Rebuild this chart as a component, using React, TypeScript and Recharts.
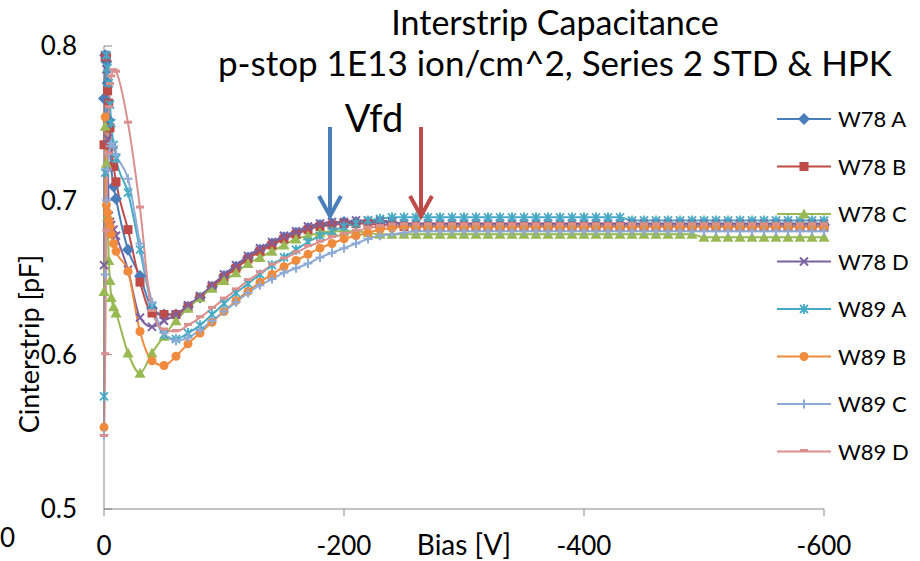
import React from "react";
import { LineChart, Line, XAxis, YAxis } from "recharts";

// bias points (V) of the sweep
const bias = [
  0, -1, -2, -3, -4, -5, -6, -8, -10, -20, -30, -40, -50, -60, -70, -80, -90,
  -100, -110, -120, -130, -140, -150, -160, -170, -180, -190, -200, -210, -220,
  -230, -240, -250, -260, -270, -280, -290, -300, -310, -320, -330, -340, -350,
  -360, -370, -380, -390, -400, -410, -420, -430, -440, -450, -460, -470, -480,
  -490, -500, -510, -520, -530, -540, -550, -560, -570, -580, -590, -600,
];

// Cinterstrip [pF] per sensor
const w78a = [
  0.766, 0.794, 0.79, 0.776, 0.752, 0.736, 0.722, 0.709, 0.701, 0.668, 0.651,
  0.63, 0.626, 0.626, 0.631, 0.637, 0.644, 0.651, 0.657, 0.663, 0.668, 0.672,
  0.676, 0.679, 0.682, 0.684, 0.685, 0.686, 0.686, 0.686, 0.686, 0.685, 0.684,
  0.684, 0.684, 0.684, 0.684, 0.684, 0.684, 0.684, 0.684, 0.684, 0.684, 0.684,
  0.684, 0.684, 0.684, 0.684, 0.684, 0.684, 0.684, 0.684, 0.684, 0.684, 0.684,
  0.684, 0.684, 0.684, 0.684, 0.684, 0.684, 0.684, 0.684, 0.684, 0.684, 0.684,
  0.684, 0.684,
];
const w78b = [
  0.736, 0.793, 0.793, 0.771, 0.763, 0.747, 0.735, 0.722, 0.712, 0.681, 0.647,
  0.627, 0.626, 0.626, 0.631, 0.637, 0.644, 0.65, 0.656, 0.662, 0.667, 0.671,
  0.675, 0.678, 0.681, 0.683, 0.684, 0.685, 0.685, 0.685, 0.684, 0.684, 0.683,
  0.683, 0.683, 0.683, 0.683, 0.683, 0.683, 0.683, 0.683, 0.683, 0.683, 0.683,
  0.683, 0.683, 0.683, 0.683, 0.683, 0.683, 0.683, 0.683, 0.683, 0.683, 0.683,
  0.683, 0.683, 0.683, 0.683, 0.683, 0.683, 0.683, 0.683, 0.683, 0.683, 0.683,
  0.683, 0.683,
];
const w78c = [
  0.641, 0.748, 0.724, 0.69, 0.661, 0.648, 0.637, 0.631, 0.627, 0.601, 0.588,
  0.601, 0.612, 0.622, 0.63, 0.637, 0.643, 0.648, 0.653, 0.659, 0.663, 0.667,
  0.671, 0.675, 0.677, 0.679, 0.68, 0.68, 0.68, 0.679, 0.678, 0.678, 0.678,
  0.678, 0.678, 0.678, 0.678, 0.678, 0.678, 0.678, 0.678, 0.678, 0.678, 0.678,
  0.678, 0.678, 0.678, 0.678, 0.678, 0.678, 0.678, 0.678, 0.678, 0.678, 0.678,
  0.678, 0.678, 0.676, 0.676, 0.676, 0.676, 0.676, 0.676, 0.676, 0.676, 0.676,
  0.676, 0.676,
];
const w78d = [
  0.658, 0.794, 0.785, 0.74, 0.69, 0.686, 0.684, 0.681, 0.677, 0.655, 0.624,
  0.618, 0.622, 0.626, 0.632, 0.638, 0.645, 0.652, 0.658, 0.664, 0.669, 0.673,
  0.677, 0.68, 0.683, 0.685, 0.686, 0.686, 0.687, 0.687, 0.687, 0.686, 0.685,
  0.685, 0.685, 0.685, 0.685, 0.685, 0.685, 0.685, 0.685, 0.685, 0.685, 0.685,
  0.685, 0.685, 0.685, 0.685, 0.685, 0.685, 0.685, 0.685, 0.685, 0.685, 0.685,
  0.685, 0.685, 0.685, 0.685, 0.685, 0.685, 0.685, 0.685, 0.685, 0.685, 0.685,
  0.685, 0.685,
];
const w89a = [
  0.573, 0.718, 0.794, 0.786, 0.776, 0.762, 0.75, 0.736, 0.727, 0.705, 0.668,
  0.631, 0.613, 0.61, 0.614, 0.619, 0.626, 0.633, 0.64, 0.646, 0.652, 0.658,
  0.663, 0.668, 0.673, 0.677, 0.68, 0.683, 0.685, 0.687, 0.688, 0.689, 0.689,
  0.689, 0.689, 0.689, 0.689, 0.689, 0.689, 0.689, 0.689, 0.689, 0.689, 0.689,
  0.689, 0.689, 0.689, 0.689, 0.689, 0.689, 0.689, 0.687, 0.687, 0.687, 0.687,
  0.687, 0.687, 0.687, 0.687, 0.687, 0.687, 0.687, 0.687, 0.687, 0.687, 0.687,
  0.687, 0.687,
];
const w89b = [
  0.553, 0.754, 0.697, 0.692, 0.687, 0.683, 0.678, 0.672, 0.667, 0.654, 0.615,
  0.596, 0.593, 0.599, 0.607, 0.614, 0.621, 0.628, 0.635, 0.641, 0.647, 0.652,
  0.657, 0.661, 0.665, 0.669, 0.672, 0.675, 0.677, 0.679, 0.681, 0.682, 0.683,
  0.683, 0.683, 0.683, 0.683, 0.683, 0.683, 0.683, 0.683, 0.683, 0.683, 0.683,
  0.683, 0.683, 0.683, 0.683, 0.683, 0.683, 0.683, 0.683, 0.683, 0.683, 0.683,
  0.683, 0.683, 0.683, 0.683, 0.683, 0.683, 0.683, 0.683, 0.683, 0.683, 0.683,
  0.683, 0.683,
];
const w89c = [
  0.548, 0.652, 0.7, 0.72, 0.73, 0.735, 0.737, 0.735, 0.73, 0.714, 0.672,
  0.634, 0.614, 0.609, 0.611, 0.616, 0.622, 0.628, 0.634, 0.64, 0.645, 0.649,
  0.653, 0.656, 0.659, 0.663, 0.666, 0.669, 0.672, 0.675, 0.677, 0.678, 0.679,
  0.68, 0.68, 0.68, 0.68, 0.68, 0.68, 0.68, 0.68, 0.68, 0.68, 0.68, 0.68, 0.68,
  0.68, 0.68, 0.68, 0.68, 0.68, 0.68, 0.68, 0.68, 0.68, 0.68, 0.68, 0.68, 0.68,
  0.68, 0.68, 0.68, 0.68, 0.68, 0.68, 0.68, 0.68, 0.68, 0.68,
];
const w89d = [
  0.547, 0.6, 0.68, 0.73, 0.76, 0.775, 0.78, 0.784, 0.783, 0.75, 0.695, 0.628,
  0.616, 0.615, 0.619, 0.624, 0.63, 0.636, 0.642, 0.648, 0.653, 0.658, 0.662,
  0.666, 0.67, 0.673, 0.676, 0.678, 0.68, 0.682, 0.683, 0.684, 0.684, 0.684,
  0.684, 0.684, 0.684, 0.684, 0.684, 0.684, 0.684, 0.684, 0.684, 0.684, 0.684,
  0.684, 0.684, 0.684, 0.684, 0.684, 0.684, 0.684, 0.684, 0.684, 0.684, 0.684,
  0.684, 0.684, 0.684, 0.684, 0.684, 0.684, 0.684, 0.684, 0.684, 0.684, 0.684,
  0.684,
];

const xTicks = [0, -200, -400, -600];
const yTicks = [0.5, 0.6, 0.7, 0.8];

type Shape =
  | "diamond"
  | "square"
  | "triangle"
  | "cross"
  | "star"
  | "circle"
  | "plus"
  | "dash";

const series: { key: string; name: string; color: string; shape: Shape; values: number[] }[] = [
  { key: "w78a", name: "W78 A", color: "#4A7EBB", shape: "diamond", values: w78a },
  { key: "w78b", name: "W78 B", color: "#BE4B48", shape: "square", values: w78b },
  { key: "w78c", name: "W78 C", color: "#98B954", shape: "triangle", values: w78c },
  { key: "w78d", name: "W78 D", color: "#7D60A0", shape: "cross", values: w78d },
  { key: "w89a", name: "W89 A", color: "#46AAC5", shape: "star", values: w89a },
  { key: "w89b", name: "W89 B", color: "#F08A3C", shape: "circle", values: w89b },
  { key: "w89c", name: "W89 C", color: "#8EAAD6", shape: "plus", values: w89c },
  { key: "w89d", name: "W89 D", color: "#D9908E", shape: "dash", values: w89d },
];

const rows = bias.map((v, i) => {
  const row: Record<string, number> = { bias: v };
  series.forEach((s) => {
    row[s.key] = s.values[i];
  });
  return row;
});

const FONT = "Lato, 'Open Sans', sans-serif";

const Marker = ({ shape, color, cx, cy }: { shape: Shape; color: string; cx: number; cy: number }) => {
  switch (shape) {
    case "diamond":
      return (
        <polygon
          points={`${cx},${cy - 6} ${cx + 6},${cy} ${cx},${cy + 6} ${cx - 6},${cy}`}
          fill={color}
        />
      );
    case "square":
      return <rect x={cx - 4.5} y={cy - 4.5} width={9} height={9} fill={color} />;
    case "triangle":
      return (
        <polygon
          points={`${cx},${cy - 5.5} ${cx + 5.5},${cy + 4.5} ${cx - 5.5},${cy + 4.5}`}
          fill={color}
        />
      );
    case "cross":
      return (
        <path
          d={`M${cx - 4},${cy - 4}L${cx + 4},${cy + 4}M${cx - 4},${cy + 4}L${cx + 4},${cy - 4}`}
          stroke={color}
          strokeWidth={2}
        />
      );
    case "star":
      return (
        <path
          d={`M${cx - 4},${cy - 4}L${cx + 4},${cy + 4}M${cx - 4},${cy + 4}L${cx + 4},${cy - 4}M${cx},${cy - 5}L${cx},${cy + 5}`}
          stroke={color}
          strokeWidth={1.8}
        />
      );
    case "circle":
      return <circle cx={cx} cy={cy} r={4.5} fill={color} />;
    case "plus":
      return (
        <path
          d={`M${cx - 4.5},${cy}L${cx + 4.5},${cy}M${cx},${cy - 4.5}L${cx},${cy + 4.5}`}
          stroke={color}
          strokeWidth={2}
        />
      );
    default:
      return <rect x={cx - 4} y={cy - 2.5} width={8} height={3} fill={color} />;
  }
};

const makeDot = (shape: Shape, color: string) => (props: any) => {
  const { cx, cy, index } = props;
  if (cx == null || cy == null) return <g key={index} />;
  return <Marker key={index} shape={shape} color={color} cx={cx} cy={cy} />;
};

const Arrow = ({ x, color }: { x: number; color: string }) => (
  <g stroke={color} strokeWidth={4} fill="none">
    <line x1={x} y1={127} x2={x} y2={216} />
    <polyline points={`${x - 11},${196} ${x},${216} ${x + 11},${196}`} />
  </g>
);

const App: React.FC = () => {
  return (
    <div
      style={{
        position: "absolute",
        left: 0,
        top: 0,
        width: 920,
        height: 561,
        background: "#fff",
        fontFamily: FONT,
      }}
    >
      <LineChart
        width={920}
        height={561}
        data={rows}
        margin={{ top: 46, right: 96, bottom: 12, left: 44 }}
      >
        <XAxis
          dataKey="bias"
          type="number"
          domain={[-600, 0]}
          reversed
          ticks={xTicks}
          height={40}
          tickSize={7}
          tickMargin={21}
          stroke="#878787"
          tick={{ fill: "#000", fontSize: 26, fontFamily: FONT }}
        />
        <YAxis
          type="number"
          domain={[0.5, 0.8]}
          ticks={yTicks}
          width={60}
          tickSize={-8}
          tickMargin={35}
          stroke="#878787"
          tickFormatter={(v: number) => v.toFixed(1)}
          tick={{ fill: "#000", fontSize: 26, fontFamily: FONT }}
        />
        {series.map((s) => (
          <Line
            key={s.key}
            dataKey={s.key}
            name={s.name}
            type="monotone"
            stroke={s.color}
            strokeWidth={2}
            dot={makeDot(s.shape, s.color)}
            activeDot={false}
            isAnimationActive={false}
          />
        ))}
      </LineChart>

      {/* titles, annotations and legend */}
      <svg
        width={920}
        height={561}
        style={{ position: "absolute", left: 0, top: 0, pointerEvents: "none" }}
        fontFamily={FONT}
      >
        <text x={555} y={35} fontSize={34} textAnchor="middle">
          Interstrip Capacitance
        </text>
        <text x={555} y={76} fontSize={35} textAnchor="middle">
          p-stop 1E13 ion/cm^2, Series 2 STD &amp; HPK
        </text>
        <text x={374} y={132} fontSize={38} textAnchor="middle">
          Vfd
        </text>
        <Arrow x={330} color="#4A7EBB" />
        <Arrow x={421} color="#BE4B48" />
        <text x={464} y={555} fontSize={28} textAnchor="middle">
          Bias [V]
        </text>
        <text x={0} y={547} fontSize={26} textAnchor="start">
          0
        </text>
        <text
          x={0}
          y={0}
          fontSize={27}
          textAnchor="middle"
          transform="translate(39,344) rotate(-90)"
        >
          Cinterstrip [pF]
        </text>
        {series.map((s, i) => {
          const y = 119 + i * 47.5;
          return (
            <g key={s.key}>
              <line x1={777} x2={831} y1={y} y2={y} stroke={s.color} strokeWidth={2} />
              <Marker shape={s.shape} color={s.color} cx={804} cy={y} />
              <text x={838} y={y + 8} fontSize={22}>
                {s.name}
              </text>
            </g>
          );
        })}
      </svg>
    </div>
  );
};

export default App;
